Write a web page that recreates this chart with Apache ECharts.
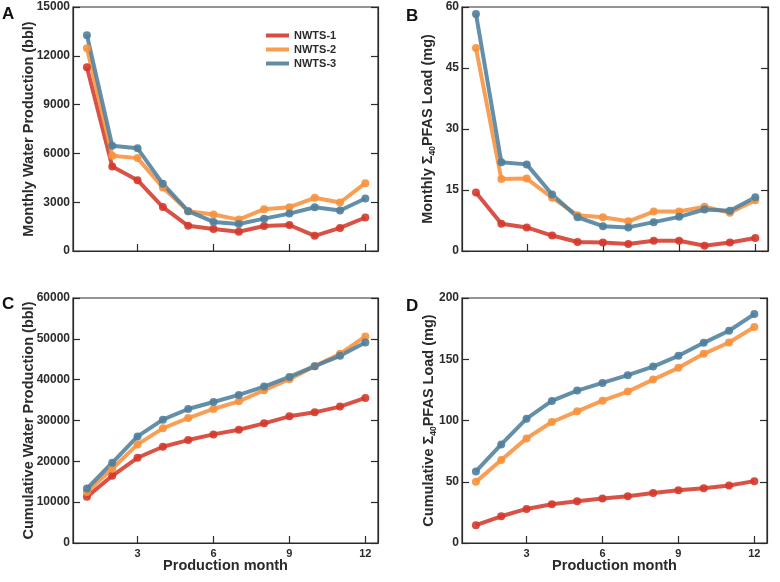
<!DOCTYPE html>
<html>
<head>
<meta charset="UTF-8">
<title>NWTS water and PFAS</title>
<style>
html, body { margin: 0; padding: 0; background: #fff; }
#main { width: 780px; height: 582px; }
</style>
</head>
<body>
<div id="main"></div>
<script src="https://cdn.jsdelivr.net/npm/echarts@6/dist/echarts.min.js"></script>
<script>
// data
var months = [1, 2, 3, 4, 5, 6, 7, 8, 9, 10, 11, 12];
var wellNames = ['NWTS-1', 'NWTS-2', 'NWTS-3'];
var wellColors = ['#d43a2c', '#f7913d', '#4f7f9c'];

// A: monthly water production (bbl)
var waterMonthly1 = [11300, 5200, 4350, 2700, 1550, 1350, 1180, 1540, 1600, 930, 1420, 2060];
var waterMonthly2 = [12470, 5860, 5710, 3900, 2450, 2240, 1930, 2570, 2690, 3270, 2980, 4170];
var waterMonthly3 = [13270, 6470, 6310, 4130, 2450, 1790, 1660, 1990, 2300, 2690, 2490, 3230];

// B: monthly sum40 PFAS load (mg)
var pfasMonthly1 = [14.4, 6.7, 5.8, 3.8, 2.2, 2.1, 1.7, 2.5, 2.5, 1.3, 2.1, 3.2];
var pfasMonthly2 = [49.9, 17.7, 17.8, 13.1, 8.8, 8.3, 7.3, 9.7, 9.7, 10.9, 9.4, 12.5];
var pfasMonthly3 = [58.3, 21.8, 21.3, 13.9, 8.3, 6.1, 5.8, 7.1, 8.4, 10.2, 9.9, 13.2];

// C: cumulative water production (bbl)
var waterCum1 = [11300, 16450, 20870, 23570, 25210, 26600, 27750, 29300, 31020, 32000, 33400, 35520];
var waterCum2 = [12520, 18170, 24150, 28080, 30610, 32820, 34700, 37400, 40100, 43300, 46330, 50590];
var waterCum3 = [13340, 19650, 26110, 30200, 32820, 34540, 36260, 38300, 40680, 43300, 45840, 49110];

// D: cumulative sum40 PFAS load (mg)
var pfasCum1 = [14.5, 21.8, 27.8, 31.7, 34.1, 36.3, 38.2, 40.9, 43.1, 44.7, 46.9, 50.5];
var pfasCum2 = [49.9, 67.7, 85.4, 98.8, 107.5, 116.2, 123.6, 133.4, 143.0, 154.4, 163.7, 176.3];
var pfasCum3 = [58.4, 80.5, 101.5, 116.0, 124.4, 130.7, 137.0, 144.0, 152.8, 163.4, 173.3, 186.9];

var xTicks = [3, 6, 9, 12];

var panels = [
  { rows: [waterMonthly1, waterMonthly2, waterMonthly3], max: 15000, step: 3000,
    name: 'Monthly Water Production (bbl)', gap: 37, showX: false,
    grid: { left: 73, top: 7, width: 305, height: 244 } },
  { rows: [pfasMonthly1, pfasMonthly2, pfasMonthly3], max: 60, step: 15,
    name: 'Monthly Σ{sub|40}PFAS Load (mg)', gap: 25, showX: false,
    grid: { left: 462, top: 7, width: 306, height: 244 } },
  { rows: [waterCum1, waterCum2, waterCum3], max: 60000, step: 10000,
    name: 'Cumulative Water Production (bbl)', gap: 37, showX: true,
    grid: { left: 73, top: 298, width: 305, height: 245 } },
  { rows: [pfasCum1, pfasCum2, pfasCum3], max: 200, step: 50,
    name: 'Cumulative Σ{sub|40}PFAS Load (mg)', gap: 24, showX: true,
    grid: { left: 462, top: 298, width: 305, height: 245 } }
];

var FONT = '"Liberation Sans", Arial, sans-serif';
var INK = '#2b2b2b';

var grids = [], xAxes = [], yAxes = [], series = [];

panels.forEach(function (p, i) {
  grids.push({
    left: p.grid.left, top: p.grid.top, width: p.grid.width, height: p.grid.height,
    show: true, borderColor: INK, borderWidth: 1.2, backgroundColor: 'transparent'
  });
  xAxes.push({
    gridIndex: i, type: 'value', min: 0.45, max: 12.5,
    name: p.showX ? 'Production month' : '',
    nameLocation: 'middle', nameGap: 15, nameMoveOverlap: false,
    nameTextStyle: { fontFamily: FONT, fontSize: 14.5, fontWeight: 'bold', color: INK, verticalAlign: 'top' },
    axisLine: { show: true, lineStyle: { color: INK, width: 1.2 } },
    axisTick: { show: true, inside: true, length: 7, customValues: xTicks, lineStyle: { color: INK, width: 1.2 } },
    axisLabel: { show: p.showX, customValues: xTicks, margin: 5,
      fontFamily: FONT, fontSize: 11, fontWeight: 'bold', color: INK },
    splitLine: { show: false }
  });
  yAxes.push({
    gridIndex: i, type: 'value', min: 0, max: p.max, interval: p.step,
    name: p.name, nameLocation: 'middle', nameGap: p.gap, nameMoveOverlap: false,
    nameTextStyle: {
      fontFamily: FONT, fontSize: 14.5, fontWeight: 'bold', color: INK,
      rich: { sub: { fontFamily: FONT, fontSize: 8.5, fontWeight: 'bold', color: INK, verticalAlign: 'top', padding: [9, 0, 0, 0] } }
    },
    axisLine: { show: true, lineStyle: { color: INK, width: 1.2 } },
    axisTick: { show: true, inside: true, length: 7, lineStyle: { color: INK, width: 1.2 } },
    axisLabel: { margin: 3, fontFamily: FONT, fontSize: 12, fontWeight: 'bold', color: INK,
      formatter: function (v) { return String(v); } },
    splitLine: { show: false }
  });
  // right-hand copy, ticks only
  yAxes.push({
    gridIndex: i, type: 'value', position: 'right', min: 0, max: p.max, interval: p.step,
    axisLine: { show: true, lineStyle: { color: INK, width: 1.2 } },
    axisTick: { show: true, inside: true, length: 7, lineStyle: { color: INK, width: 1.2 } },
    axisLabel: { show: false },
    splitLine: { show: false }
  });
  p.rows.forEach(function (vals, k) {
    series.push({
      name: wellNames[k], type: 'line',
      xAxisIndex: i, yAxisIndex: i * 2,
      data: months.map(function (m, j) { return [m, vals[j]]; }),
      symbol: 'circle', symbolSize: 8,
      lineStyle: { color: wellColors[k], width: 4, opacity: 0.88 },
      itemStyle: { color: wellColors[k], opacity: 0.9 },
      emphasis: { disabled: true },
      animation: false
    });
  });
});

var letters = [['A', 2, 6], ['B', 406, 8], ['C', 2, 296], ['D', 406, 298]];

var chart = echarts.init(document.getElementById('main'), null, { renderer: 'canvas' });
chart.setOption({
  backgroundColor: '#fff',
  animation: false,
  grid: grids,
  xAxis: xAxes,
  yAxis: yAxes,
  legend: {
    data: wellNames, orient: 'vertical', left: 261, top: 25,
    icon: 'rect', itemWidth: 23, itemHeight: 4, itemGap: 3,
    textStyle: { fontFamily: FONT, fontSize: 11, fontWeight: 'bold', color: INK }
  },
  graphic: letters.map(function (l) {
    return { type: 'text', left: l[1], top: l[2],
      style: { text: l[0], fontFamily: FONT, fontSize: 17, fontWeight: 'bold', fill: '#111' } };
  }),
  series: series
});
</script>
</body>
</html>
